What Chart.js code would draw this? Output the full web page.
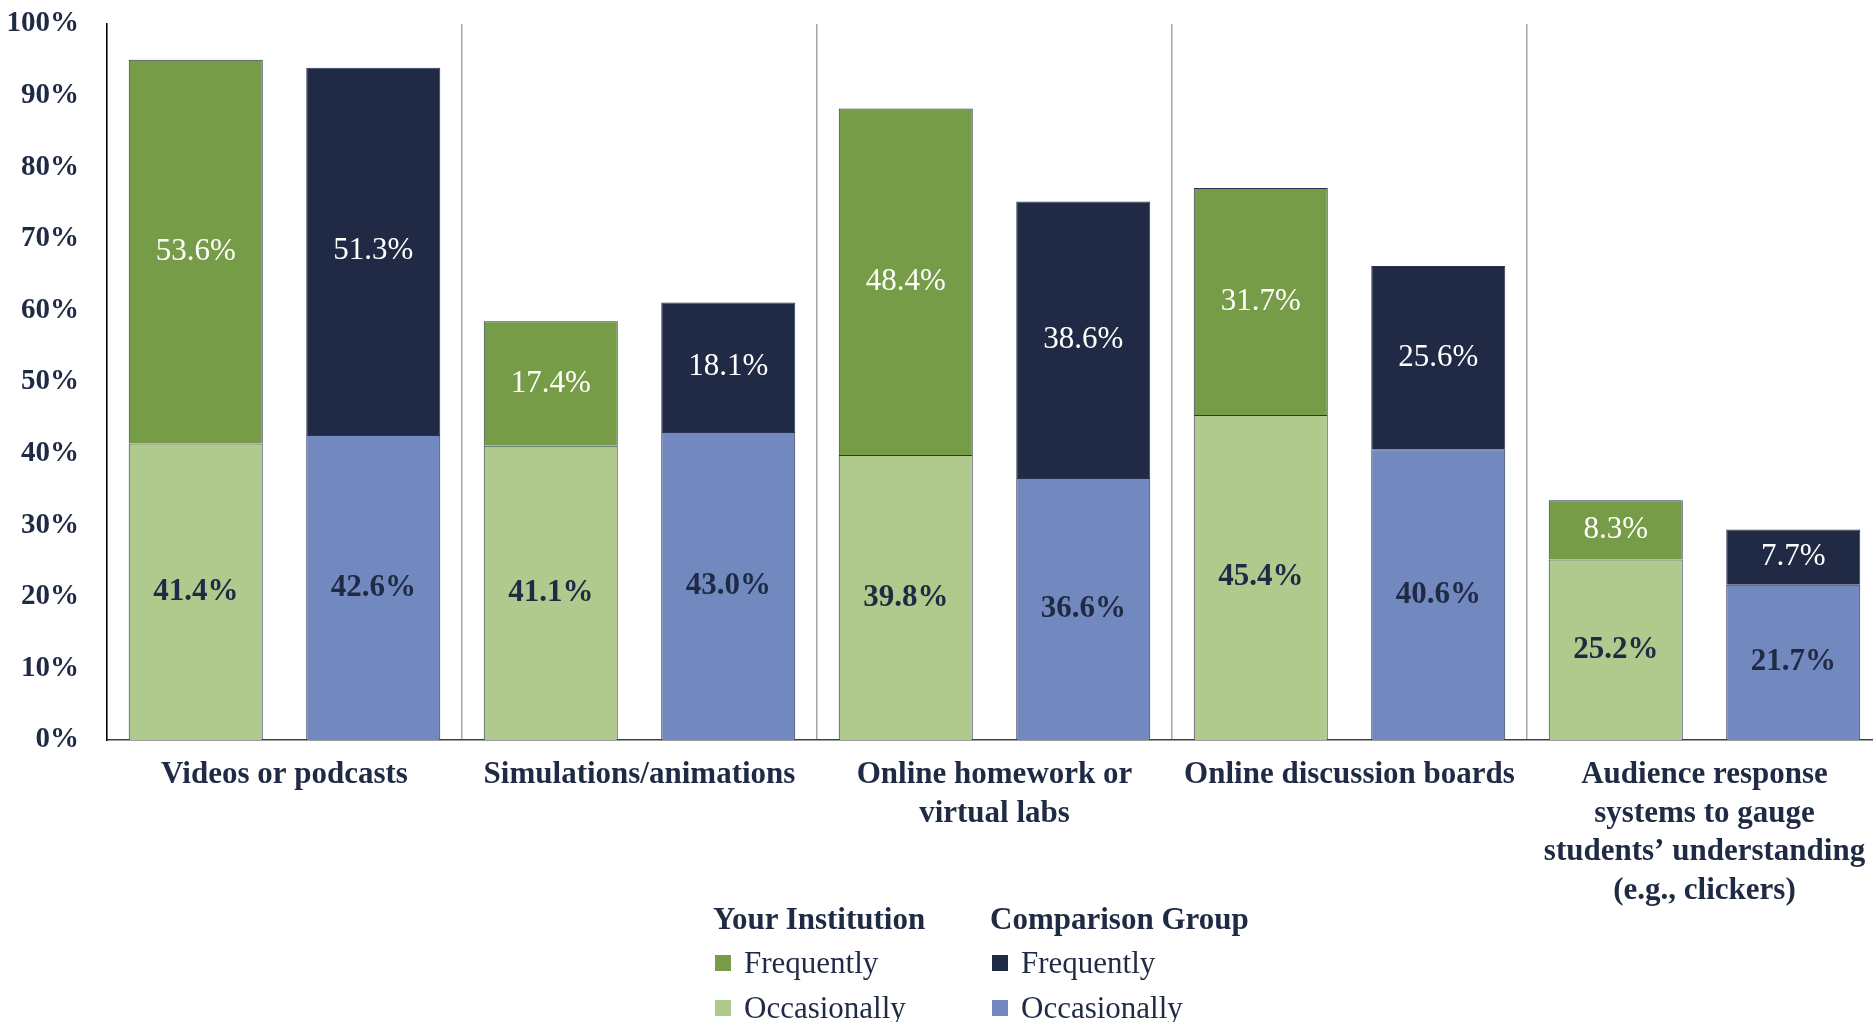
<!DOCTYPE html>
<html>
<head>
<meta charset="utf-8">
<script src="https://cdn.jsdelivr.net/npm/chart.js@4.4.1/dist/chart.umd.min.js"></script>
<style>
    html, body { margin: 0; padding: 0; background: #fff; overflow: hidden; width: 1873px; height: 1022px; }
    #wrap { position: relative; width: 1873px; height: 1022px; }
    #chart { position: absolute; left: 0; top: 0; }
    .lg { position: absolute; font-family: 'Liberation Serif', 'DejaVu Serif', serif; color: #1f2a44; font-size: 31px; line-height: 1; white-space: nowrap; }
    .lg-head { font-weight: bold; }
    .sw { display: inline-block; width: 16px; height: 16px; margin-right: 13px; vertical-align: 2px; }
</style>
</head>
<body>
<div id="wrap">
    <canvas id="chart" width="1882" height="1022"></canvas>

    <div class="lg lg-head" style="left:713px; top:903px;">Your Institution</div>
    <div class="lg" style="left:715px; top:947px;"><span class="sw" style="background:#779c48"></span>Frequently</div>
    <div class="lg" style="left:715px; top:992px;"><span class="sw" style="background:#b0c98d"></span>Occasionally</div>

    <div class="lg lg-head" style="left:990px; top:903px;">Comparison Group</div>
    <div class="lg" style="left:992px; top:947px;"><span class="sw" style="background:#202a44"></span>Frequently</div>
    <div class="lg" style="left:992px; top:992px;"><span class="sw" style="background:#7189bf"></span>Occasionally</div>
</div>

<script>
const categories = [
    ['Videos or podcasts'],
    ['Simulations/animations'],
    ['Online homework or', 'virtual labs'],
    ['Online discussion boards'],
    ['Audience response', 'systems to gauge', 'students\u2019 understanding', '(e.g., clickers)']
];

const instOccasionally = [41.4, 41.1, 39.8, 45.4, 25.2];
const instFrequently = [53.6, 17.4, 48.4, 31.7, 8.3];
const compOccasionally = [42.6, 43.0, 36.6, 40.6, 21.7];
const compFrequently = [51.3, 18.1, 38.6, 25.6, 7.7];

const yTicks = [0, 10, 20, 30, 40, 50, 60, 70, 80, 90, 100];

const navy = '#1f2a44';
const serif = "'Liberation Serif', 'DejaVu Serif', serif";

// labels centred inside each bar segment
const barLabels = {
    id: 'barLabels',
    afterDatasetsDraw(chart) {
        const ctx = chart.ctx;
        ctx.save();
        ctx.textAlign = 'center';
        ctx.textBaseline = 'middle';
        chart.data.datasets.forEach((ds, i) => {
            const meta = chart.getDatasetMeta(i);
            ctx.fillStyle = ds.labelColor;
            ctx.font = `${ds.labelWeight} 31px ${serif}`;
            meta.data.forEach((bar, j) => {
                const p = bar.getProps(['x', 'y', 'base'], true);
                ctx.fillText(ds.data[j].toFixed(1) + '%', p.x, (p.y + p.base) / 2);
            });
        });
        ctx.restore();
    }
};

const mkSet = (label, data, color, stack, labelColor, labelWeight) => ({
    label, data, stack,
    backgroundColor: color,
    borderColor: '#2a3450',
    borderWidth: 1,
    barPercentage: 0.755,
    categoryPercentage: 1.0,
    labelColor, labelWeight
});

new Chart(document.getElementById('chart'), {
    type: 'bar',
    data: {
        labels: categories,
        datasets: [
            mkSet('Occasionally', instOccasionally, '#b0c98d', 'inst', navy, 'bold'),
            mkSet('Frequently', instFrequently, '#779c48', 'inst', '#ffffff', 'normal'),
            mkSet('Occasionally', compOccasionally, '#7189bf', 'comp', navy, 'bold'),
            mkSet('Frequently', compFrequently, '#202a44', 'comp', '#ffffff', 'normal')
        ]
    },
    options: {
        responsive: false,
        animation: false,
        layout: { padding: { top: 24, right: 0, bottom: 0, left: 0 } },
        plugins: {
            legend: { display: false },
            tooltip: { enabled: false }
        },
        scales: {
            x: {
                stacked: true,
                offset: true,
                grid: { display: true, offset: true, color: '#a6a6a6', lineWidth: 1.5, drawTicks: false },
                border: { display: true, color: '#404040', width: 1.5 },
                ticks: {
                    color: navy,
                    font: { family: serif, size: 31, weight: 'bold', lineHeight: 1.24 },
                    padding: 16,
                    maxRotation: 0,
                    autoSkip: false
                },
                afterFit: (scale) => { scale.height = 282; }
            },
            y: {
                stacked: true,
                min: 0,
                max: 100,
                afterBuildTicks: (scale) => { scale.ticks = yTicks.map(v => ({ value: v })); },
                grid: { display: false, drawTicks: false },
                border: { display: true, color: '#000000', width: 1.5 },
                ticks: {
                    color: navy,
                    font: { family: serif, size: 29, weight: 'bold' },
                    padding: 28,
                    callback: (v) => v + '%'
                },
                afterFit: (scale) => {
                    scale.width = 107;
                    scale.paddingTop = 0;
                    scale.paddingBottom = 0;
                }
            }
        }
    },
    plugins: [barLabels]
});
</script>
</body>
</html>
